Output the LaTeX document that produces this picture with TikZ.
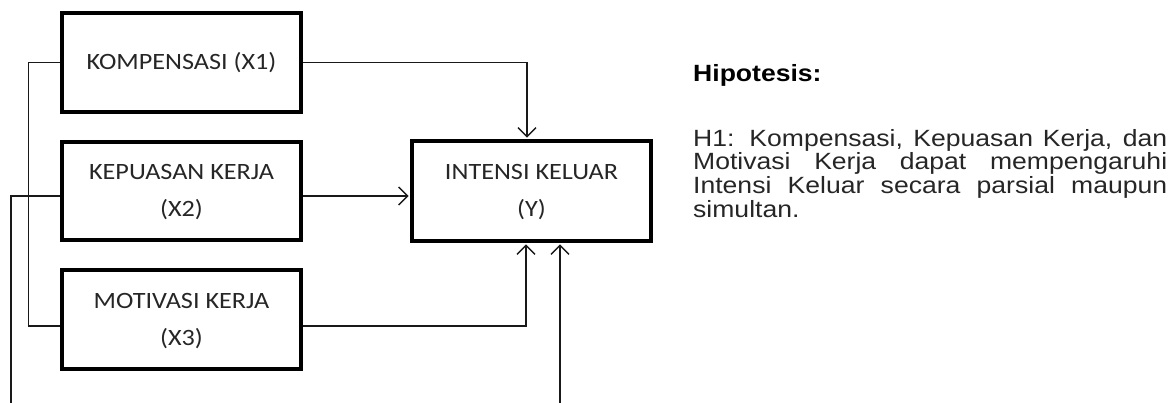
\documentclass[tikz,border=0pt]{standalone}
\usepackage{fontspec}
\usepackage{graphicx}
\setmainfont{Liberation Sans}
\newfontfamily\boxfont{Carlito}
\usetikzlibrary{arrows.meta}

% two-line label inside a variable box
\newcommand\boxtext[1]{\scalebox{1.12}[1]{\boxfont\fontsize{23.4}{37}\selectfont
  \begin{tabular}{@{}c@{}}#1\end{tabular}}}

\tikzset{
  varbox/.style={draw, line width=3.4pt, inner sep=0pt,
    minimum width=239pt, minimum height=99pt, text=black!85},
  conn/.style={line width=1.4pt, black!90},
  arr/.style={conn, -{Straight Barb[length=9pt,width=18pt,line width=1.4pt]},
    shorten >=1.6pt},
}

\begin{document}
\begin{tikzpicture}[x=1pt, y=-1pt]
\useasboundingbox (0,0) rectangle (1171,403);

% variables
\node[varbox] (x1) at (181.5,62.5) {\boxtext{KOMPENSASI (X1)\\ }};
\node[varbox, minimum height=98pt] (x2) at (181.5,191) {\boxtext{KEPUASAN KERJA\\(X2)}};
\node[varbox] (x3) at (181.5,319.5) {\boxtext{MOTIVASI KERJA\\(X3)}};
\node[varbox, minimum height=100pt] (y) at (531.5,191) {\boxtext{INTENSI KELUAR\\(Y)}};

% free ends at the lower edge
\coordinate (outL) at (11,403);
\coordinate (inB) at (560,403);

% paths into the dependent variable
\draw[arr] (x1.east) -| ([xshift=-4.5pt]y.north);
\draw[arr] ([yshift=-5pt]x2.east) -- ([yshift=-5pt]x2.east -| y.west);
\draw[arr] ([yshift=-6.5pt]x3.east) -| ([xshift=-5.5pt]y.south);
\draw[arr] (inB) -- (inB |- y.south);

% links on the left side
\draw[conn] (x1.west) -- ++(-32,0) |- ([yshift=-6.5pt]x3.west);
\draw[conn] ([yshift=-5pt]x2.west) -| (outL);

% hypothesis text
\node[anchor=base west, inner sep=0pt] (hyptitle) at (693,82)
  {\scalebox{1.13}[1]{\fontsize{23.5}{23.7}\selectfont\bfseries Hipotesis:}};
\node[anchor=base west, inner sep=0pt] (hyptext) at (693,129)
  {\scalebox{1.13}[1]{\parbox[t]{419.5pt}{\fontsize{23.5}{23.7}\selectfont
   \hyphenpenalty=10000 \exhyphenpenalty=10000 \color{black!85}%
   H1: Kompensasi, Kepuasan Kerja, dan\linebreak
   Motivasi Kerja dapat mempengaruhi\linebreak
   Intensi Keluar secara parsial maupun\linebreak
   simultan.}}};
\end{tikzpicture}
\end{document}
